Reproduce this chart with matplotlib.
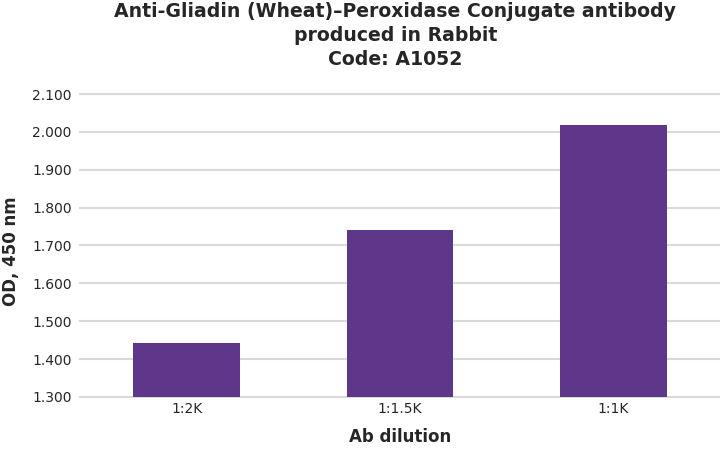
import numpy as np
import matplotlib
matplotlib.use('Agg')
import matplotlib.pyplot as plt

dilutions = ['1:2K', '1:1.5K', '1:1K']
od_values = [1.442, 1.741, 2.019]
y_ticks = [1.3, 1.4, 1.5, 1.6, 1.7, 1.8, 1.9, 2.0, 2.1]

bar_color = '#5E378A'
grid_color = '#D9D9D9'
text_color = '#262626'

fig = plt.figure(figsize=(7.2, 4.5), dpi=100)
ax = fig.add_axes([0.111, 0.118, 0.889, 0.673])

x = np.arange(len(dilutions))
ax.bar(x, od_values, width=0.5, color=bar_color, zorder=3)

ax.set_xlim(-0.5, 2.5)
ax.set_ylim(1.3, 2.1)
ax.set_yticks(y_ticks)
ax.set_yticklabels(['%.3f' % v for v in y_ticks])
ax.set_xticks(x)
ax.set_xticklabels(dilutions)

ax.yaxis.grid(True, color=grid_color, linewidth=1.5, zorder=0)
for gl in ax.get_ygridlines():
    gl.set_clip_on(False)
for s in ax.spines.values():
    s.set_visible(False)
ax.tick_params(axis='both', length=0, labelsize=10, labelcolor=text_color)
ax.tick_params(axis='x', pad=4)
ax.tick_params(axis='y', pad=6)

ax.set_xlabel('Ab dilution', fontsize=12, fontweight='bold', color=text_color, labelpad=8)
ax.set_ylabel('OD, 450 nm', fontsize=12, fontweight='bold', color=text_color)
ax.yaxis.set_label_coords(-0.094, 0.48)

fig.text(0.549, 0.995, 'Anti-Gliadin (Wheat)\u2013Peroxidase Conjugate antibody\nproduced in Rabbit\nCode: A1052',
         ha='center', va='top', fontsize=13.6, fontweight='bold', color=text_color, linespacing=1.32)

fig.savefig('out.png', dpi=100)
